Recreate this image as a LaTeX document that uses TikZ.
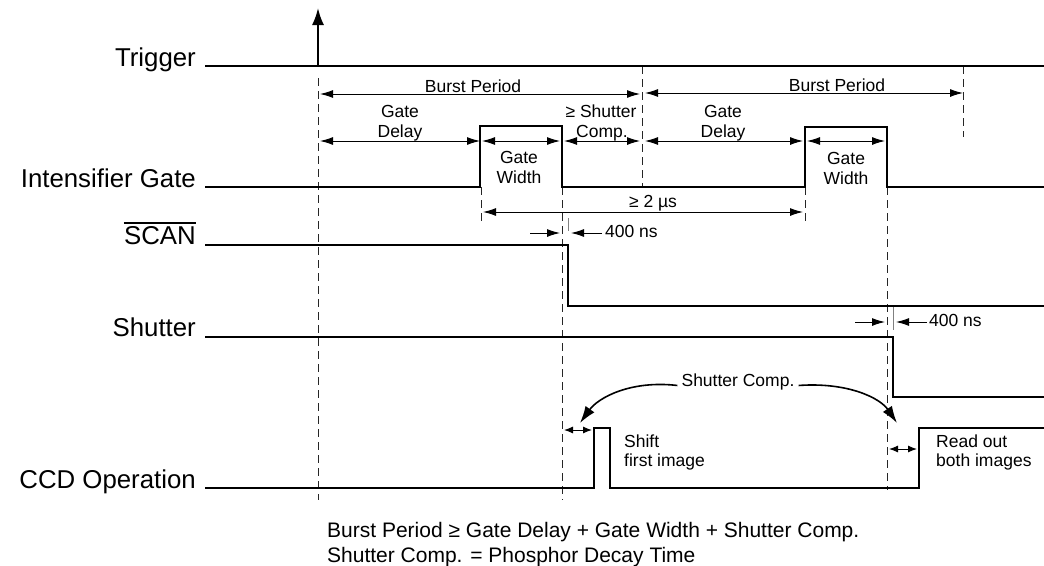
\documentclass[tikz,border=0pt]{standalone}
\usepackage{fontspec}
\setmainfont{Liberation Sans}
\usetikzlibrary{arrows.meta}
\begin{document}
\begin{tikzpicture}[x=1pt,y=-1pt,
  sig/.style={line width=2pt, line join=miter},
  dimarrow/.style={line width=1pt, {Latex[length=13pt,width=8pt]}-{Latex[length=13pt,width=8pt]}},
  onearrow/.style={line width=1pt, -{Latex[length=13pt,width=8pt]}},
  tinyarrow/.style={line width=1pt, {Latex[length=9pt,width=7pt]}-{Latex[length=9pt,width=7pt]}},
  bendarrow/.style={line width=1.6pt, -{Latex[length=17pt,width=11pt]}},
  guide/.style={line width=0.9pt, dash pattern=on 8pt off 5pt, black!85},
  sigtext/.style={font=\fontsize{25.8}{28}\selectfont, anchor=base east, inner sep=0pt},
  smalltext/.style={font=\fontsize{17.5}{20}\selectfont, anchor=base, inner sep=0pt},
  lefttext/.style={font=\fontsize{17.5}{20}\selectfont, anchor=base west, inner sep=0pt},
  notetext/.style={font=\fontsize{21}{25}\selectfont, anchor=base west, inner sep=0pt},
]
\useasboundingbox (0,0) rectangle (1044,565);

% signal names
\node[sigtext] (trig) at (196,66) {Trigger};
\node[sigtext] (igate) at (196,187) {Intensifier Gate};
\node[sigtext] (scan) at (196,244) {SCAN};
\draw[line width=1.3pt] (scan.west |- 0,223) -- (scan.east |- 0,223);
\node[sigtext] (shut) at (196,336) {Shutter};
\node[sigtext] (ccd) at (196,488) {CCD Operation};

% dashed guide lines
\draw[guide] (318,78) -- (318,500);
\draw[guide] (642,66) -- (642,186);
\draw[guide] (963,66) -- (963,137);
\draw[guide] (481,187) -- (481,222);
\draw[guide] (805,187) -- (805,222);
\draw[guide] (562,187) -- (562,500);
\draw[guide] (887,187) -- (887,490);
\draw[line width=0.9pt, black!50] (568,218) -- (568,231);
\draw[line width=0.9pt, black!50] (893,307) -- (893,330);

% signals
\draw[sig] (205,66) -- (1044,66);
\draw[line width=2pt, -{Latex[length=17pt,width=12pt]}] (318,66) -- (318,8);
\draw[sig] (205,187) -- (480,187) -- (480,126) -- (562,126) -- (562,187)
   -- (805,187) -- (805,127) -- (887,127) -- (887,187) -- (1044,187);
\draw[sig] (205,245) -- (568,245) -- (568,306) -- (1044,306);
\draw[sig] (205,337) -- (893,337) -- (893,397) -- (1044,397);
\draw[sig] (205,488) -- (594,488) -- (594,428) -- (610,428) -- (610,488)
   -- (919,488) -- (919,428) -- (1044,428);

% dimension arrows
\draw[dimarrow] (320,94) -- (640,94);
\draw[dimarrow] (645,93) -- (963,93);
\draw[dimarrow] (320,141) -- (480,141);
\draw[dimarrow] (482,141) -- (560,141);
\draw[dimarrow] (564,141) -- (640,141);
\draw[dimarrow] (645,141) -- (803,141);
\draw[dimarrow] (807,141) -- (885,141);
\draw[dimarrow] (483,212) -- (803,212);
\draw[onearrow] (530,233) -- (560,233);
\draw[onearrow] (602,233) -- (571,233);
\draw[onearrow] (855,322) -- (885,322);
\draw[onearrow] (927,322) -- (896,322);
\draw[tinyarrow] (564,430) -- (592,430);
\draw[tinyarrow] (889,449) -- (917,449);

% labels
\node[smalltext] (bp1) at (473,92) {Burst Period};
\node[smalltext] (bp2) at (837,91) {Burst Period};
\node[smalltext] (gd1a) at (400,117) {Gate};
\node[smalltext] (gd1b) at (400,137) {Delay};
\node[smalltext] (gw1a) at (519,163) {Gate};
\node[smalltext] (gw1b) at (519,183) {Width};
\node[smalltext] (sca) at (601,117) {≥ Shutter};
\node[smalltext] (scb) at (602,137) {Comp.};
\node[smalltext] (gd2a) at (723,117) {Gate};
\node[smalltext] (gd2b) at (723,137) {Delay};
\node[smalltext] (gw2a) at (846,164) {Gate};
\node[smalltext] (gw2b) at (846,184) {Width};
\node[smalltext] (twous) at (653,207) {≥ 2 µs};
\node[lefttext] (ns1) at (605,237) {400 ns};
\node[lefttext] (ns2) at (929,326) {400 ns};
\node[smalltext] (scomp) at (738,386) {Shutter Comp.};
\node[lefttext] (sh1) at (624,447) {Shift};
\node[lefttext] (sh2) at (624,466) {first image};
\node[lefttext] (ro1) at (936,447) {Read out};
\node[lefttext] (ro2) at (936,466) {both images};
\node[notetext] (note1) at (327,537) {Burst Period ≥ Gate Delay + Gate Width + Shutter Comp.};
\node[notetext] (note2) at (327,562) {Shutter Comp. = Phosphor Decay Time};

% curved arrows
\coordinate (tipL) at (580,423);
\coordinate (tipR) at (897,423);
\draw[bendarrow] ([xshift=-4pt,yshift=-4pt]scomp.west) .. controls (630,380) and (598,398) .. (tipL);
\draw[bendarrow] ([xshift=4pt,yshift=-4pt]scomp.east) .. controls (848,382) and (880,398) .. (tipR);
\end{tikzpicture}
\end{document}
